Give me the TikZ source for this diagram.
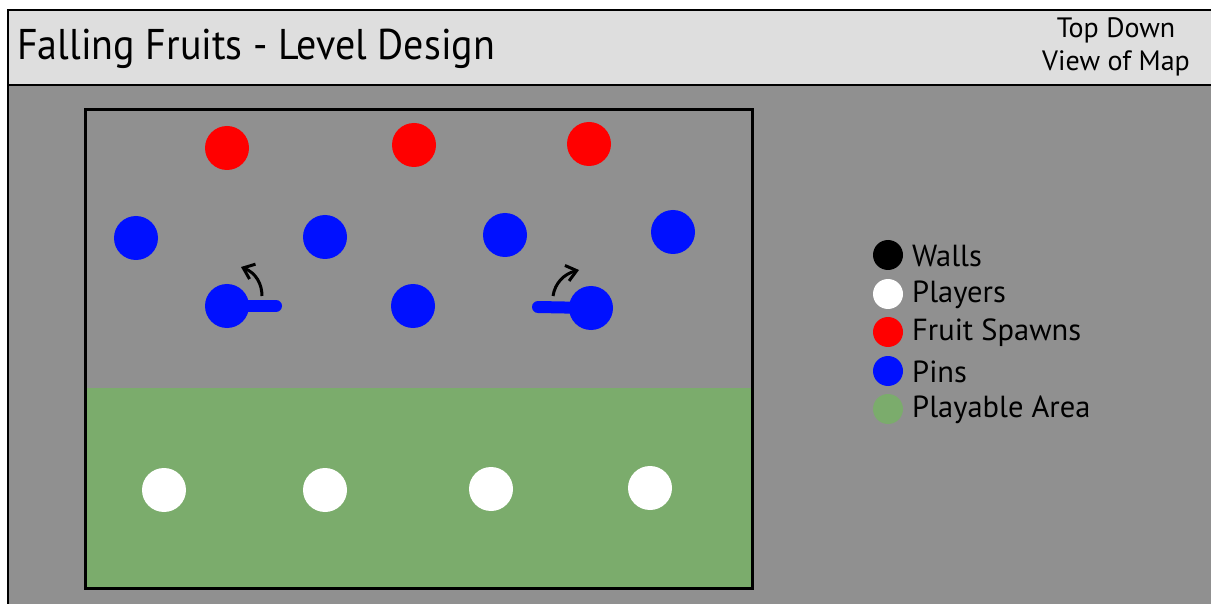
\documentclass[tikz,border=0pt]{standalone}
\usepackage{fontspec}
\setmainfont{PT Sans}
\newfontfamily\condfont[FakeStretch=0.93]{PT Sans}
\usetikzlibrary{arrows.meta}
\definecolor{bggrey}{HTML}{909090}
\definecolor{hdrgrey}{HTML}{DEDEDE}
\definecolor{areagreen}{HTML}{7BAC6C}
\definecolor{pinblue}{HTML}{0010FF}
\definecolor{spawnred}{HTML}{FF0000}
\begin{document}
\begin{tikzpicture}[x=1pt,y=-1pt,
  dot/.style={circle,inner sep=0pt,minimum size=44pt,draw=none},
  legdot/.style={circle,inner sep=0pt,minimum size=30pt,draw=none},
  legtext/.style={anchor=west,inner sep=0pt,font=\fontsize{30.5}{32}\selectfont},
  pinbar/.style={pinblue,line width=12pt,line cap=round},
  turn/.style={line width=3pt,-{Straight Barb[length=10pt,width=16pt,line width=3pt]}}]
\useasboundingbox (0,0) rectangle (1211,604);
\fill[white] (0,0) rectangle (1211,604);
\fill[bggrey] (8,85) rectangle (1212,605);
\fill[hdrgrey] (8,10) rectangle (1212,85);
\draw[line width=1.2pt] (1213,10) -- (8,10) -- (8,606);
\draw[line width=2pt] (8,85) -- (1213,85);
% header texts
\node[anchor=west,inner sep=0pt,font=\condfont\fontsize{43}{45}\selectfont] (title) at (17,49) {Falling Fruits - Level Design};
\node[align=center,inner sep=0pt,font=\fontsize{28}{33}\selectfont] (view) at (1116,47) {Top Down\\View of Map};
% map
\fill[areagreen] (85,388) rectangle (752,588);
\draw[line width=3pt] (85,110) rectangle (752,588);
% fruit spawns
\node[dot,fill=spawnred] (r1) at (227,148) {};
\node[dot,fill=spawnred] (r2) at (414,145) {};
\node[dot,fill=spawnred] (r3) at (589,144) {};
% pins
\node[dot,fill=pinblue] (p1) at (136,238) {};
\node[dot,fill=pinblue] (p2) at (325,237) {};
\node[dot,fill=pinblue] (p3) at (505,235) {};
\node[dot,fill=pinblue] (p4) at (673,232) {};
\coordinate (b1) at (276,306);
\coordinate (b2) at (538,307);
\draw[pinbar] (227,306) -- (b1);
\draw[pinbar] (591,308) -- (b2);
\node[dot,fill=pinblue] (p5) at (227,306) {};
\node[dot,fill=pinblue] (p6) at (413,306) {};
\node[dot,fill=pinblue] (p7) at (591,308) {};
% rotation arrows
\coordinate (a1s) at (262,296);
\coordinate (a1e) at (241,267);
\coordinate (a2s) at (553,296);
\coordinate (a2e) at (579,270);
\draw[turn] (a1s) .. controls (262,284) and (256,273) .. (a1e);
\draw[turn] (a2s) .. controls (555,283) and (564,274) .. (a2e);
% players
\node[dot,fill=white] (w1) at (164,490) {};
\node[dot,fill=white] (w2) at (325,490) {};
\node[dot,fill=white] (w3) at (491,489) {};
\node[dot,fill=white] (w4) at (650,488) {};
% legend
\node[legdot,fill=black] (l1) at (888,255) {};
\node[legdot,fill=white] (l2) at (888,294) {};
\node[legdot,fill=spawnred] (l3) at (888,332) {};
\node[legdot,fill=pinblue] (l4) at (888,371) {};
\node[legdot,fill=areagreen] (l5) at (888,409) {};
\node[legtext] (t1) at (912,256) {Walls};
\node[legtext] (t2) at (912,295) {Players};
\node[legtext] (t3) at (912,333) {Fruit Spawns};
\node[legtext] (t4) at (912,372) {Pins};
\node[legtext] (t5) at (912,410) {Playable Area};
\end{tikzpicture}
\end{document}
